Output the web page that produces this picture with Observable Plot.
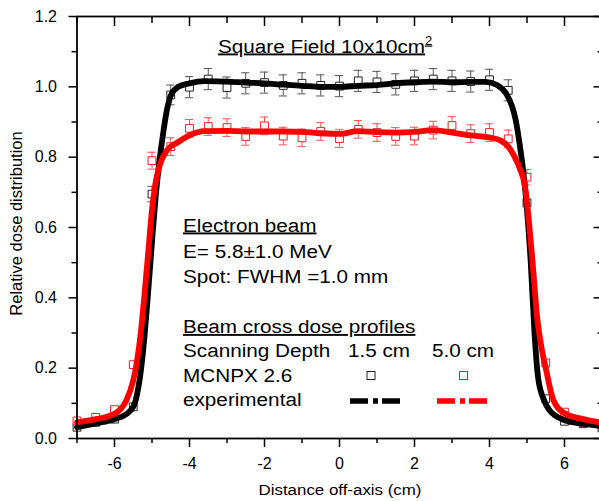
<!DOCTYPE html>
<html><head><meta charset="utf-8">
<script src="https://cdn.jsdelivr.net/npm/d3@7"></script>
<script src="https://cdn.jsdelivr.net/npm/@observablehq/plot@0.6"></script>
<style>
html,body{margin:0;padding:0;background:#fff;overflow:hidden}
#wrap{position:relative;width:599px;height:501px;overflow:hidden}
#wrap svg{display:block}
#overlay{position:absolute;left:0;top:0}
</style></head><body><div id="wrap"></div>
<script>
// MCNPX 2.6 simulated points (x in cm)
const mcX = [-7,-6.5,-6,-5.5,-5,-4.5,-4,-3.5,-3,-2.5,-2,-1.5,-1,-0.5,0,0.5,1,1.5,2,2.5,3,3.5,4,4.5,5,5.5,6,6.5,7];
const mc15 = [0.032,0.046,0.055,0.09,0.695,0.977,0.999,1.022,0.998,1.010,1.012,1.004,1.010,1.004,1.002,1.017,1.014,1.007,1.017,1.022,1.017,1.015,1.020,0.990,0.67,0.113,0.049,0.042,0.030];
const mc15Err = [0.002,0.002,0.002,0.004,0.022,0.028,0.03,0.03,0.03,0.03,0.03,0.03,0.03,0.03,0.03,0.03,0.03,0.03,0.03,0.03,0.03,0.03,0.03,0.03,0.004,0.004,0.002,0.002,0.002];
const mc50 = [0.05,0.06,0.082,0.21,0.79,0.83,0.882,0.887,0.884,0.859,0.889,0.86,0.855,0.873,0.853,0.879,0.87,0.859,0.86,0.877,0.89,0.867,0.87,0.852,0.743,0.215,0.075,0.045,0.04];
const mc50Err = [0.002,0.002,0.003,0.006,0.024,0.025,0.025,0.025,0.025,0.025,0.025,0.025,0.025,0.025,0.025,0.025,0.025,0.025,0.025,0.025,0.025,0.025,0.025,0.025,0.022,0.006,0.003,0.002,0.002];

// Experimental profiles
const expX15 = [-7,-6.5,-6,-5.7,-5.5,-5.4,-5.3,-5.2,-5.1,-5.0,-4.9,-4.8,-4.7,-4.6,-4.5,-4.3,-4.0,-3.6,-3.0,-2.5,-2.0,-1.5,-1.0,-0.5,0,0.5,1.0,1.5,2.0,2.5,3.0,3.5,3.9,4.2,4.45,4.6,4.7,4.8,4.9,5.0,5.1,5.2,5.3,5.45,5.6,6.0,6.5,7.0];
const exp15 = [0.032,0.043,0.055,0.068,0.09,0.125,0.19,0.29,0.42,0.56,0.69,0.79,0.87,0.935,0.975,1.0,1.01,1.016,1.015,1.012,1.01,1.006,1.003,1.0,1.0,1.003,1.005,1.01,1.013,1.015,1.013,1.014,1.014,1.005,0.98,0.945,0.905,0.84,0.76,0.65,0.5,0.3,0.17,0.11,0.08,0.052,0.042,0.035];
const expX50 = [-7,-6.5,-6,-5.7,-5.5,-5.4,-5.3,-5.2,-5.1,-5.0,-4.9,-4.8,-4.6,-4.3,-4.0,-3.6,-3.0,-2.5,-2.0,-1.5,-1.0,-0.5,0,0.5,1.0,1.5,2.0,2.5,3.0,3.5,4.0,4.3,4.5,4.65,4.8,4.95,5.05,5.15,5.27,5.4,5.5,5.7,6.0,6.5,7.0];
const exp50 = [0.046,0.055,0.07,0.105,0.165,0.22,0.3,0.41,0.53,0.65,0.73,0.775,0.82,0.843,0.862,0.874,0.875,0.873,0.873,0.873,0.872,0.868,0.866,0.874,0.871,0.87,0.872,0.877,0.87,0.862,0.856,0.847,0.83,0.805,0.77,0.715,0.62,0.5,0.345,0.25,0.2,0.11,0.072,0.055,0.045];

// Ticks
const xMajorTicks = [-6,-4,-2,0,2,4,6];
const xMinorTicks = [-7,-5,-3,-1,1,3,5,7];
const yMajorTicks = [0,0.2,0.4,0.6,0.8,1.0,1.2];
const yMinorTicks = [0.1,0.3,0.5,0.7,0.9,1.1];

const pts15 = mcX.map((x,i)=>({x, y: mc15[i], e: mc15Err[i]}));
const pts50 = mcX.map((x,i)=>({x, y: mc50[i], e: mc50Err[i]}));
const line15 = expX15.map((x,i)=>({x, y: exp15[i]}));
const line50 = expX50.map((x,i)=>({x, y: exp50[i]}));

const capHalf = 0.11;
function errMarks(data, color) {
  const d = data.filter(p => p.e > 0.008);
  return [
    Plot.ruleX(d, {x:"x", y1: p=>p.y-p.e, y2: p=>p.y+p.e, stroke: color, strokeWidth: 1}),
    Plot.ruleY(d, {y: p=>p.y+p.e, x1: p=>p.x-capHalf, x2: p=>p.x+capHalf, stroke: color, strokeWidth: 1}),
    Plot.ruleY(d, {y: p=>p.y-p.e, x1: p=>p.x-capHalf, x2: p=>p.x+capHalf, stroke: color, strokeWidth: 1})
  ];
}

const font = "'Liberation Sans', Arial, sans-serif";
const blank = () => "";

const chart = Plot.plot({
  width: 599, height: 501,
  marginLeft: 76.5, marginRight: -2.5, marginTop: 16, marginBottom: 63,
  style: {fontFamily: font, fontSize: "16px", color: "#000", background: "#fff", overflow: "visible"},
  x: {domain: [-7, 7]},
  y: {domain: [0, 1.2]},
  marks: [
    ...errMarks(pts15, "#555"),
    ...errMarks(pts50, "#ee5555"),
    Plot.dot(pts15, {x:"x", y:"y", symbol:"square", r:4.4, stroke:"#222", strokeWidth:1, fill:"white"}),
    Plot.dot(pts50, {x:"x", y:"y", symbol:"square", r:4.4, stroke:"#e52020", strokeWidth:1, fill:"white"}),
    Plot.line(line15, {x:"x", y:"y", stroke:"#000", strokeWidth:5.8, curve:"monotone-x"}),
    Plot.line(line50, {x:"x", y:"y", stroke:"#ff0000", strokeWidth:5.8, curve:"monotone-x"}),
    Plot.axisX(xMajorTicks, {anchor:"bottom", tickSize:9, tickPadding:10, strokeWidth:1.5, tickFormat: d => String(d), label:null, fontSize:16}),
    Plot.axisX(xMinorTicks, {anchor:"bottom", tickSize:5, strokeWidth:1.5, tickFormat: blank, label:null}),
    Plot.axisX(xMajorTicks, {anchor:"top", tickSize:-9, strokeWidth:1.5, tickFormat: blank, label:null}),
    Plot.axisX(xMinorTicks, {anchor:"top", tickSize:-6, strokeWidth:1.5, tickFormat: blank, label:null}),
    Plot.axisY(yMajorTicks, {anchor:"left", tickSize:8, tickPadding:12, strokeWidth:1.5, tickFormat: d3.format(".1f"), label:null, fontSize:16}),
    Plot.axisY(yMinorTicks, {anchor:"left", tickSize:5, strokeWidth:1.5, tickFormat: blank, label:null}),
    Plot.axisY(yMajorTicks, {anchor:"right", tickSize:-9, strokeWidth:1.5, tickFormat: blank, label:null}),
    Plot.axisY(yMinorTicks, {anchor:"right", tickSize:-5, strokeWidth:1.5, tickFormat: blank, label:null}),
    Plot.frame({stroke:"#000", strokeWidth:1.8})
  ]
});
document.getElementById("wrap").appendChild(chart);

// Annotation overlay
const ov = d3.select("#wrap").append("svg").attr("id","overlay")
  .attr("width",599).attr("height",501).style("font-family", font);

function txt(s, x, y, o = {}) {
  const t = ov.append("text")
    .attr("transform", `translate(${x},${y}) rotate(${o.rotate||0}) scale(${o.sx||1.09},1)`)
    .attr("text-anchor", o.anchor || "start")
    .attr("font-size", o.size || 19)
    .attr("fill", "#000")
    .text(s);
  if (o.underline) t.style("text-decoration", "underline");
  return t;
}

const title = txt("Square Field 10x10cm", 218, 52.5, {underline:true});
title.append("tspan").attr("dy", -8).attr("font-size", 12).text("2");

txt("Electron beam", 183, 231.5, {underline:true});
txt("E= 5.8\u00b11.0 MeV", 183, 257.5);
txt("Spot: FWHM =1.0 mm", 183, 283);
txt("Beam cross dose profiles", 183, 333, {underline:true});
txt("Scanning Depth", 183, 357);
txt("1.5 cm", 348, 357);
txt("5.0 cm", 432, 357);
txt("MCNPX 2.6", 183, 382);
txt("experimental", 183, 406);

// legend symbols
ov.append("rect").attr("x", 367).attr("y", 371.5).attr("width", 8).attr("height", 8)
  .attr("fill","white").attr("stroke","#222").attr("stroke-width",1);
ov.append("rect").attr("x", 459.5).attr("y", 371.5).attr("width", 8).attr("height", 8)
  .attr("fill","white").attr("stroke","#e52020").attr("stroke-width",1);
ov.append("line").attr("x1",350).attr("x2",400).attr("y1",401).attr("y2",401)
  .attr("stroke","#000").attr("stroke-width",5.5).attr("stroke-dasharray","18,5,5,4,18");
ov.append("line").attr("x1",437).attr("x2",487).attr("y1",401).attr("y2",401)
  .attr("stroke","#ff0000").attr("stroke-width",5.5).attr("stroke-dasharray","18,5,5,4,18");

// axis titles
txt("Relative dose distribution", 22, 223.5, {rotate:-90, sx:1, size:16.5, anchor:"middle"});
txt("Distance off-axis (cm)", 340, 495, {size:15.5, anchor:"middle"});
</script>
</body></html>
